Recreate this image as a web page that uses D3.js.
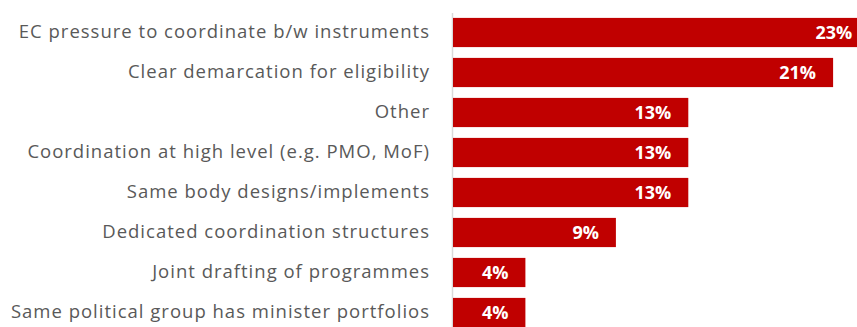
<!DOCTYPE html>
<html>
<head>
<meta charset="utf-8">
<script src="https://cdn.jsdelivr.net/npm/d3@7/dist/d3.min.js"></script>
<style>
  html, body { margin: 0; padding: 0; background: #fff; overflow: hidden; }
  svg { display: block; }
</style>
</head>
<body>
<svg id="chart" width="857" height="327"></svg>
<script>
// Coordination mechanisms between instruments (share of responses, %)
const categories = [
  "EC pressure to coordinate b/w instruments",
  "Clear demarcation for eligibility",
  "Other",
  "Coordination at high level (e.g. PMO, MoF)",
  "Same body designs/implements",
  "Dedicated coordination structures",
  "Joint drafting of programmes",
  "Same political group has minister portfolios"
];
const values = [23, 21, 13, 13, 13, 9, 4, 4];

const data = categories.map((c, i) => ({ category: c, value: values[i] }));

const svg = d3.select("#chart");
const fontFamily = "'Open Sans', Lato, sans-serif";

const x0 = 453;
const x = d3.scaleLinear().domain([0, 25]).range([x0, x0 + 25 * 18.1]);
const y = d3.scaleBand()
  .domain(categories)
  .range([12.5, 332.5])
  .paddingInner(0.27)
  .paddingOuter(0.135);

// Category axis
const axis = svg.append("g")
  .attr("transform", `translate(${x0 - 1},0)`)
  .call(d3.axisLeft(y).tickSize(0).tickSizeOuter(0).tickPadding(22));
axis.select(".domain").attr("stroke", "#d9d9d9").attr("stroke-width", 1.5);
axis.selectAll(".tick text")
  .attr("fill", "#595959")
  .style("font-family", fontFamily)
  .style("font-size", "18.5px")
  .style("letter-spacing", "1px");

// Bars
svg.append("g").selectAll("rect")
  .data(data)
  .join("rect")
  .attr("x", x(0))
  .attr("y", d => y(d.category))
  .attr("width", d => x(d.value) - x(0))
  .attr("height", y.bandwidth())
  .attr("fill", "#c00000");

// Value labels inside bar ends
svg.append("g").selectAll("text")
  .data(data)
  .join("text")
  .attr("x", d => x(d.value) - 17)
  .attr("y", d => y(d.category) + y.bandwidth() / 2)
  .attr("dy", "0.36em")
  .attr("text-anchor", "end")
  .attr("fill", "#ffffff")
  .style("font-family", fontFamily)
  .style("font-weight", "bold")
  .style("font-size", "18px")
  .text(d => d.value + "%");
</script>
</body>
</html>
